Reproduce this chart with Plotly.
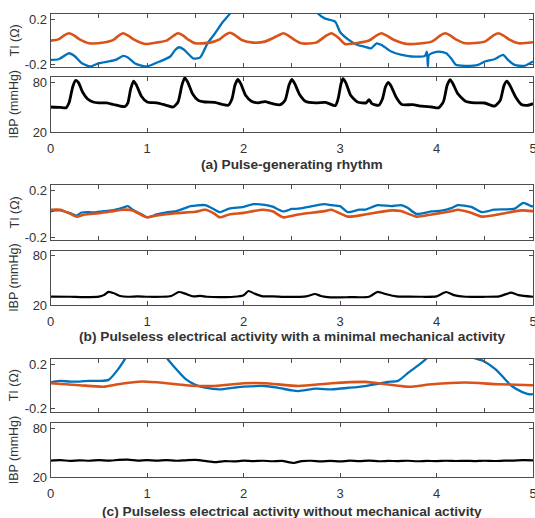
import plotly.graph_objects as go

# ---------------- data ----------------
# Panel (a) Pulse-generating rhythm
a_ti_orange_t = [0.00, 0.08, 0.14, 0.19, 0.24, 0.30, 0.40, 0.55, 0.65, 0.70, 0.75, 0.80, 0.87, 0.98, 1.10, 1.20, 1.27, 1.32, 1.37, 1.43, 1.50,
                 1.65, 1.75, 1.81, 1.86, 1.91, 1.98, 2.10, 2.22, 2.36, 2.41, 2.46, 2.52, 2.60, 2.75, 2.86, 2.91, 2.96, 3.00, 3.05, 3.20, 3.30,
                 3.38, 3.43, 3.48, 3.56, 3.70, 3.95, 4.04, 4.09, 4.14, 4.20, 4.30, 4.50, 4.59, 4.64, 4.69, 4.76, 4.85, 5.00]
a_ti_orange_v = [0.009, 0.020, 0.055, 0.074, 0.055, 0.020, -0.015, -0.008, 0.015, 0.050, 0.074, 0.055, 0.015, -0.021, -0.008, 0.009, 0.050, 0.074, 0.055, 0.015, -0.015,
                 -0.009, 0.020, 0.060, 0.079, 0.058, 0.015, -0.009, 0.000, 0.055, 0.074, 0.055, 0.020, -0.015, -0.009, 0.055, 0.074, 0.050, 0.020, -0.021, -0.009, 0.010,
                 0.055, 0.074, 0.055, 0.015, -0.021, 0.000, 0.055, 0.074, 0.055, 0.020, -0.015, 0.000, 0.055, 0.074, 0.055, 0.015, -0.015, -0.006]

a_ti_blue_t = [0.00, 0.08, 0.15, 0.19, 0.25, 0.32, 0.41, 0.50, 0.60, 0.68, 0.75, 0.80, 0.87, 0.95, 1.00,
               1.13, 1.24, 1.29, 1.33, 1.38, 1.48, 1.55, 1.60, 1.63, 1.70, 1.78, 1.86, 2.00, 2.30, 2.60,
               2.77, 2.84, 2.95, 3.00, 3.09, 3.18, 3.25, 3.32, 3.38, 3.43, 3.53, 3.64, 3.74, 3.88, 3.90,
               3.91, 3.92, 3.95, 4.02, 4.10, 4.15, 4.20, 4.29, 4.43, 4.50, 4.60, 4.69, 4.74, 4.81, 4.91, 5.00]
a_ti_blue_v = [-0.162, -0.156, -0.120, -0.103, -0.130, -0.190, -0.220, -0.191, -0.176, -0.160, -0.126, -0.140, -0.191, -0.215, -0.220,
               -0.176, -0.132, -0.074, -0.050, -0.070, -0.150, -0.140, -0.060, -0.009, 0.070, 0.170, 0.250, 0.450, 0.600, 0.450,
               0.250, 0.206, 0.176, 0.085, 0.015, -0.030, -0.044, -0.059, -0.015, -0.030, -0.088, -0.118, -0.132, -0.126, -0.088,
               -0.220, -0.120, -0.103, -0.088, -0.103, -0.147, -0.206, -0.215, -0.206, -0.176, -0.156, -0.118, -0.162, -0.206, -0.215, -0.176]

a_ibp_t = [0.00, 0.10, 0.16, 0.19, 0.23, 0.26, 0.29, 0.33, 0.38, 0.44, 0.50, 0.58, 0.65, 0.72, 0.77,
           0.80, 0.83, 0.86, 0.89, 0.94, 1.00, 1.10, 1.20, 1.27,
           1.32, 1.36, 1.39, 1.42, 1.47, 1.53, 1.60, 1.70, 1.78, 1.84,
           1.88, 1.91, 1.94, 1.97, 2.02, 2.08, 2.15, 2.22, 2.30, 2.38,
           2.43, 2.47, 2.50, 2.53, 2.58, 2.64, 2.75, 2.85, 2.95,
           2.98, 3.01, 3.03, 3.06, 3.11, 3.18, 3.27, 3.30, 3.33, 3.40,
           3.44, 3.47, 3.50, 3.53, 3.58, 3.64, 3.75, 3.85, 3.95, 4.02,
           4.07, 4.11, 4.14, 4.17, 4.22, 4.30, 4.40, 4.50, 4.60,
           4.66, 4.70, 4.73, 4.76, 4.82, 4.88, 4.94, 5.00]
a_ibp_v = [50.0, 49.5, 49.0, 55.0, 75.0, 82.0, 79.0, 68.0, 60.0, 56.0, 55.0, 55.0, 53.0, 51.0, 50.5,
           55.0, 72.0, 81.0, 76.0, 63.0, 56.0, 55.0, 52.0, 50.0,
           56.0, 76.0, 85.0, 80.0, 66.0, 58.0, 56.0, 55.5, 53.0, 52.0,
           60.0, 76.0, 83.0, 78.0, 64.0, 57.0, 55.0, 56.5, 54.0, 52.8,
           58.0, 76.0, 83.0, 78.0, 65.0, 57.0, 55.0, 55.6, 51.6,
           60.0, 78.0, 84.0, 79.0, 64.0, 56.0, 55.0, 58.8, 54.0, 52.0,
           60.0, 74.0, 79.6, 75.0, 62.0, 53.0, 52.8, 51.0, 50.0, 49.0,
           56.0, 76.0, 82.8, 78.0, 66.0, 57.0, 55.0, 54.8, 51.0,
           58.0, 76.0, 81.0, 76.0, 62.0, 53.0, 52.0, 54.0]

# Panel (b) PEA with minimal mechanical activity
b_ti_orange_t = [0.00, 0.10, 0.20, 0.27, 0.35, 0.50, 0.65, 0.75, 0.85, 0.95, 1.00, 1.10, 1.30, 1.50, 1.60,
                 1.70, 1.75, 1.85, 2.00, 2.20, 2.30, 2.41, 2.57, 2.84, 2.91, 3.08, 3.26, 3.53, 3.63, 3.79,
                 3.95, 4.16, 4.22, 4.35, 4.47, 4.71, 4.88, 5.00]
b_ti_orange_v = [0.034, 0.034, 0.000, -0.025, -0.007, 0.004, 0.022, 0.034, 0.028, -0.016, -0.031, -0.016, 0.004, 0.016, 0.034,
                 -0.001, -0.031, -0.007, 0.007, 0.034, 0.020, -0.031, -0.007, 0.022, 0.034, -0.025, -0.007, 0.028, 0.022, -0.025,
                 -0.007, 0.022, 0.034, 0.010, -0.025, 0.004, 0.028, 0.022]

b_ti_blue_t = [0.00, 0.05, 0.10, 0.20, 0.27, 0.32, 0.40, 0.45, 0.55, 0.65, 0.75, 0.80, 0.85, 0.95, 1.00,
               1.10, 1.20, 1.30, 1.40, 1.45, 1.60, 1.70, 1.75, 1.85, 2.00, 2.10, 2.22, 2.30, 2.41, 2.50,
               2.57, 2.75, 2.84, 2.91, 3.00, 3.08, 3.20, 3.26, 3.39, 3.53, 3.63, 3.70, 3.79, 3.95, 4.05,
               4.16, 4.22, 4.36, 4.47, 4.60, 4.81, 4.90, 4.98, 5.00]
b_ti_blue_v = [0.019, 0.028, 0.028, 0.004, -0.016, 0.010, 0.013, 0.010, 0.022, 0.030, 0.052, 0.064, 0.034, -0.010, -0.031,
               -0.007, 0.010, 0.022, 0.050, 0.064, 0.073, 0.034, 0.013, 0.043, 0.058, 0.081, 0.076, 0.060, 0.019, 0.040,
               0.043, 0.070, 0.081, 0.073, 0.064, 0.013, 0.034, 0.034, 0.073, 0.064, 0.073, 0.050, -0.001, 0.019, 0.025,
               0.050, 0.073, 0.058, 0.013, 0.034, 0.043, 0.093, 0.064, 0.062]

b_ibp_t = [0.00, 0.20, 0.35, 0.50, 0.55, 0.60, 0.65, 0.72, 0.80, 0.90, 1.00, 1.15, 1.25, 1.33, 1.40,
           1.48, 1.55, 1.62, 1.75, 1.90, 2.00, 2.05, 2.12, 2.20, 2.30, 2.45, 2.65, 2.74, 2.80, 2.90,
           3.10, 3.30, 3.39, 3.48, 3.58, 3.70, 3.85, 4.00, 4.10, 4.18, 4.30, 4.50, 4.65, 4.77, 4.85, 5.00]
b_ibp_v = [30.2, 30.0, 29.6, 30.2, 32.0, 36.0, 34.5, 31.0, 30.0, 30.5, 30.0, 30.0, 31.0, 35.8, 33.5,
           30.5, 31.0, 30.0, 29.5, 30.0, 32.0, 37.0, 33.5, 30.5, 30.5, 29.8, 30.5, 33.4, 31.0, 29.3,
           29.5, 30.0, 36.0, 33.0, 30.5, 30.2, 30.0, 30.5, 35.8, 32.0, 30.0, 30.0, 30.5, 35.0, 32.0, 30.0]

# Panel (c) PEA without mechanical activity
c_ti_orange_t = [0.00, 0.30, 0.55, 0.70, 0.95, 1.20, 1.40, 1.70, 2.00, 2.22, 2.57, 2.91, 3.26, 3.71, 3.95,
                 4.29, 4.64, 5.00]
c_ti_orange_v = [0.029, 0.011, -0.002, 0.020, 0.044, 0.029, 0.011, 0.004, 0.029, 0.029, 0.004, 0.029, 0.041, -0.002, 0.020,
                 0.035, 0.020, 0.011]

c_ti_blue_t = [0.00, 0.05, 0.10, 0.20, 0.30, 0.40, 0.50, 0.60, 0.70, 0.78, 0.90, 1.00, 1.10, 1.20, 1.30,
               1.40, 1.50, 1.60, 1.75, 1.90, 2.00, 2.22, 2.35, 2.50, 2.57, 2.75, 2.91, 3.10, 3.26, 3.38,
               3.49, 3.60, 3.71, 3.85, 3.92, 4.10, 4.20, 4.34, 4.48, 4.61, 4.71, 4.78, 4.89, 4.98, 5.00]
c_ti_blue_v = [0.035, 0.045, 0.050, 0.044, 0.044, 0.050, 0.050, 0.059, 0.155, 0.260, 0.450, 0.500, 0.450, 0.260, 0.155,
               0.065, 0.014, -0.011, -0.026, -0.011, -0.002, 0.004, -0.011, -0.035, -0.041, -0.020, -0.026, -0.011, 0.004, 0.020,
               0.041, 0.050, 0.125, 0.215, 0.270, 0.450, 0.450, 0.270, 0.230, 0.155, 0.065, 0.004, -0.050, -0.071, -0.065]

c_ibp_t = [0.0, 0.1, 0.2, 0.3, 0.4, 0.5, 0.6, 0.7, 0.8, 0.9, 1.0, 1.1, 1.2, 1.3, 1.4, 1.5, 1.6, 1.7, 1.8, 1.9,
           2.0, 2.1, 2.2, 2.3, 2.4, 2.52, 2.6, 2.7, 2.8, 2.9, 3.0, 3.1, 3.2, 3.3, 3.4, 3.5, 3.6, 3.7, 3.8, 3.9,
           4.0, 4.1, 4.2, 4.3, 4.4, 4.5, 4.6, 4.7, 4.8, 4.9, 5.0]
c_ibp_v = [40.5, 41.0, 40.0, 40.8, 40.2, 41.0, 40.3, 41.2, 41.6, 40.5, 41.0, 40.4, 41.0, 40.2, 40.8, 41.2, 40.0, 38.5, 39.8, 39.5,
           40.3, 39.8, 40.2, 39.6, 40.0, 37.5, 39.8, 40.2, 39.5, 40.0, 39.4, 40.3, 39.8, 40.5, 39.6, 40.0, 39.8, 40.2, 39.6, 40.0,
           39.8, 40.2, 39.9, 40.1, 39.8, 40.2, 39.9, 40.3, 40.5, 41.0, 40.8]

ti_ticks = [-0.2, 0.2]
ti_ticktext = ["-0.2", "0.2"]
ibp_ticks = [20, 80]
ibp_ticktext = ["20", "80"]
x_ticks = [0, 1, 2, 3, 4, 5]
titles = ["(a) Pulse-generating rhythm",
          "(b) Pulseless electrical activity with a minimal mechanical activity",
          "(c) Pulseless electrical activity without mechanical activity"]

# ---------------- layout helpers ----------------
W, H = 535, 518
BLUE = "#0072BD"
ORANGE = "#D95319"
AXC = "#4d4d4d"
TXT = "#333333"
FONT = "Liberation Sans, Arial, sans-serif"


def py(p):
    return 1 - p / H


def px(p):
    return p / W


x_dom = [px(50.7), px(533)]
# (top, bottom) pixel boxes for each of the 6 axes
boxes = [(14, 67), (77, 132), (185, 240), (250.7, 305), (359, 411.7), (423.3, 477.3)]

fig = go.Figure()

series = [
    (1, a_ti_blue_t, a_ti_blue_v, BLUE, 2.3),
    (1, a_ti_orange_t, a_ti_orange_v, ORANGE, 2.6),
    (2, a_ibp_t, a_ibp_v, "black", 2.8),
    (3, b_ti_blue_t, b_ti_blue_v, BLUE, 2.3),
    (3, b_ti_orange_t, b_ti_orange_v, ORANGE, 2.6),
    (4, b_ibp_t, b_ibp_v, "black", 2.2),
    (5, c_ti_blue_t, c_ti_blue_v, BLUE, 2.3),
    (5, c_ti_orange_t, c_ti_orange_v, ORANGE, 2.6),
    (6, c_ibp_t, c_ibp_v, "black", 2.2),
]
for k, t, v, col, w in series:
    sfx = "" if k == 1 else str(k)
    fig.add_trace(go.Scatter(x=t, y=v, mode="lines", xaxis="x" + sfx, yaxis="y" + sfx,
                             line=dict(color=col, width=w, shape="spline", smoothing=0.6),
                             showlegend=False, hoverinfo="skip"))

layout = dict(width=W, height=H, margin=dict(l=0, r=0, t=0, b=0, autoexpand=False),
              paper_bgcolor="white", plot_bgcolor="white",
              font=dict(family=FONT, size=13, color=TXT), showlegend=False)

annotations = []
for i, (top, bot) in enumerate(boxes):
    k = i + 1
    sfx = "" if k == 1 else str(k)
    is_ti = (i % 2 == 0)
    xa = dict(domain=x_dom, anchor="y" + sfx, range=[0, 5], showgrid=False, zeroline=False,
              showline=True, linecolor=AXC, linewidth=1, mirror="ticks", automargin=False,
              ticks="inside", ticklen=4, tickcolor=AXC, tickwidth=1)
    if is_ti:
        xa.update(tickvals=[0, 0.5, 1, 1.5, 2, 2.5, 3, 3.5, 4, 4.5, 5], showticklabels=False)
    else:
        xa.update(tickvals=x_ticks, ticktext=[str(x) for x in x_ticks], showticklabels=True,
                  tickfont=dict(size=13, color=TXT), ticklabelstandoff=4,
                  ticklabeloverflow="allow")
    ya = dict(domain=[py(bot), py(top)], anchor="x" + sfx, showgrid=False, zeroline=False,
              showline=True, linecolor=AXC, linewidth=1, mirror="ticks", automargin=False,
              ticks="inside", ticklen=4, tickcolor=AXC, tickwidth=1,
              tickfont=dict(size=13, color=TXT), ticklabeloverflow="allow")
    if is_ti:
        ya.update(range=[-0.225, 0.245], tickvals=ti_ticks, ticktext=ti_ticktext)
        label = "TI (\u03a9)"
    else:
        ya.update(range=[20, 86], tickvals=ibp_ticks, ticktext=ibp_ticktext)
        label = "IBP (mmHg)"
    layout["xaxis" + sfx] = xa
    layout["yaxis" + sfx] = ya
    annotations.append(dict(text=label, x=px(14), y=py((top + bot) / 2), xref="paper", yref="paper",
                            showarrow=False, textangle=-90, xanchor="center", yanchor="middle",
                            font=dict(size=12.5, color=TXT)))

for title, yc in zip(titles, [164, 336.5, 511]):
    annotations.append(dict(text="<b>" + title + "</b>", x=(x_dom[0] + x_dom[1]) / 2, y=py(yc),
                            xref="paper", yref="paper", showarrow=False,
                            xanchor="center", yanchor="middle",
                            font=dict(size=13.7, color=TXT)))

layout["annotations"] = annotations
fig.update_layout(**layout)
fig.write_html("out.html", config={"displayModeBar": False},
               post_script="document.body.style.margin='0';document.body.style.overflow='hidden';")
